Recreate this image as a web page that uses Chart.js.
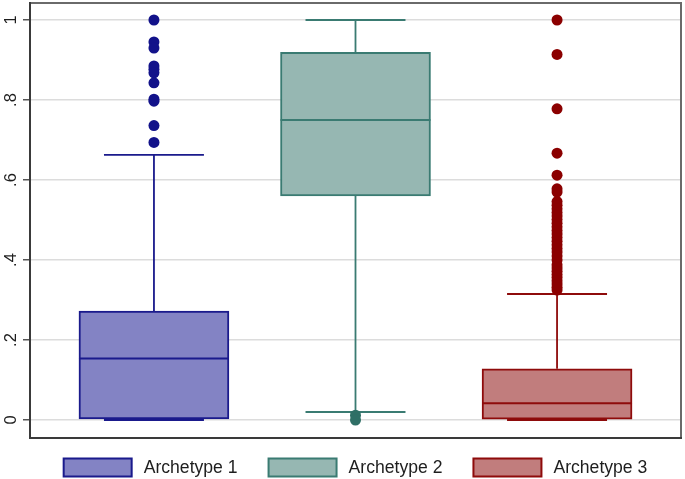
<!DOCTYPE html>
<html>
<head>
<meta charset="utf-8">
<script src="https://cdn.jsdelivr.net/npm/chart.js@4/dist/chart.umd.min.js"></script>
<style>
  html, body { margin: 0; padding: 0; background: #fff; }
  #wrap { width: 685px; height: 479px; position: relative; }
</style>
</head>
<body>
<div id="wrap"><canvas id="c" width="685" height="479"></canvas></div>
<script>
// ---- data ----
const categories = ['Archetype 1', 'Archetype 2', 'Archetype 3'];
const q1 = [0.003, 0.560, 0.002];
const median = [0.154, 0.750, 0.042];
const q3 = [0.272, 0.919, 0.128];
const whiskerLow = [0.0, 0.020, 0.0];
const whiskerHigh = [0.663, 1.0, 0.315];
const outliers1 = [1.0, 0.945, 0.930, 0.885, 0.877, 0.868, 0.843, 0.802, 0.797, 0.736, 0.694];
const outliers2 = [0.012, 0.0];
const outliers3 = [1.0, 0.914, 0.778, 0.667, 0.612, 0.578, 0.570, 0.546, 0.537, 0.528, 0.519,
  0.510, 0.501, 0.492, 0.483, 0.474, 0.465, 0.456, 0.447, 0.438, 0.429, 0.420, 0.410, 0.400,
  0.388, 0.380, 0.372, 0.364, 0.356, 0.348, 0.340, 0.332, 0.325];
const yTicks = [0, 0.2, 0.4, 0.6, 0.8, 1];

const fills = ['#8383c4', '#96b7b2', '#c17d7d'];
const borders = ['#1a1a8c', '#3a7b72', '#8e0b0b'];
const dotColors = ['#12128a', '#2f6f66', '#8b0000'];

const outlierSets = [outliers1, outliers2, outliers3];

const boxWidthUnits = 0.744;
const capWidthUnits = 0.496;

const datasets = [];
categories.forEach((name, i) => {
  datasets.push({
    type: 'bar',
    label: name,
    data: [{ x: i, y: [q1[i], q3[i]] }],
    backgroundColor: fills[i],
    borderColor: borders[i],
    borderWidth: 2,
    borderSkipped: false,
    grouped: false,
    barThickness: 150,
    order: 2
  });
});
categories.forEach((name, i) => {
  datasets.push({
    type: 'scatter',
    label: name + ' outliers',
    data: outlierSets[i].map(v => ({ x: i, y: v })),
    backgroundColor: dotColors[i],
    borderColor: dotColors[i],
    borderWidth: 0,
    pointRadius: 5.5,
    showLine: false,
    clip: false,
    order: 1
  });
});

const boxPlugin = {
  id: 'boxParts',
  beforeDatasetsDraw(chart) {
    const ctx = chart.ctx, xs = chart.scales.x, ys = chart.scales.y;
    ctx.save();
    categories.forEach((c, i) => {
      const cx = xs.getPixelForValue(i);
      const half = (xs.getPixelForValue(i + capWidthUnits / 2) - xs.getPixelForValue(i - capWidthUnits / 2)) / 2;
      ctx.strokeStyle = borders[i];
      ctx.lineWidth = 1.8;
      ctx.beginPath();
      ctx.moveTo(cx, ys.getPixelForValue(q3[i]));
      ctx.lineTo(cx, ys.getPixelForValue(whiskerHigh[i]));
      ctx.moveTo(cx, ys.getPixelForValue(q1[i]));
      ctx.lineTo(cx, ys.getPixelForValue(whiskerLow[i]));
      ctx.moveTo(cx - half, ys.getPixelForValue(whiskerHigh[i]));
      ctx.lineTo(cx + half, ys.getPixelForValue(whiskerHigh[i]));
      ctx.moveTo(cx - half, ys.getPixelForValue(whiskerLow[i]));
      ctx.lineTo(cx + half, ys.getPixelForValue(whiskerLow[i]));
      ctx.stroke();
    });
    ctx.restore();
  },
  afterDatasetsDraw(chart) {
    const ctx = chart.ctx, xs = chart.scales.x, ys = chart.scales.y;
    ctx.save();
    categories.forEach((c, i) => {
      const l = xs.getPixelForValue(i - boxWidthUnits / 2);
      const r = xs.getPixelForValue(i + boxWidthUnits / 2);
      const y = ys.getPixelForValue(median[i]);
      ctx.strokeStyle = borders[i];
      ctx.lineWidth = 2;
      ctx.beginPath();
      ctx.moveTo(l, y);
      ctx.lineTo(r, y);
      ctx.stroke();
    });
    // frame
    const a = chart.chartArea;
    ctx.lineWidth = 2;
    ctx.strokeStyle = '#6a6a6a';
    ctx.beginPath();
    ctx.moveTo(a.left, a.top); ctx.lineTo(a.right, a.top); ctx.lineTo(a.right, a.bottom);
    ctx.stroke();
    ctx.strokeStyle = '#3a3a3a';
    ctx.beginPath();
    ctx.moveTo(a.left, a.top - 1); ctx.lineTo(a.left, a.bottom); ctx.lineTo(a.right + 1, a.bottom);
    ctx.stroke();
    ctx.restore();
  },
  afterDraw(chart) {
    // legend
    const ctx = chart.ctx, a = chart.chartArea;
    ctx.save();
    ctx.font = '17.6px "Liberation Sans", Arial, sans-serif';
    ctx.textBaseline = 'middle';
    ctx.textAlign = 'left';
    const bw = 68, bh = 18, gapText = 12, gapItem = 31;
    const widths = categories.map(t => bw + gapText + ctx.measureText(t).width);
    const total = widths.reduce((s, w) => s + w, 0) + gapItem * (categories.length - 1);
    let x = (a.left + a.right) / 2 - total / 2;
    const yc = 467.5;
    categories.forEach((t, i) => {
      ctx.fillStyle = fills[i];
      ctx.fillRect(x, yc - bh / 2, bw, bh);
      ctx.strokeStyle = borders[i];
      ctx.lineWidth = 2;
      ctx.strokeRect(x, yc - bh / 2, bw, bh);
      ctx.fillStyle = '#1e1e1e';
      ctx.fillText(t, x + bw + gapText, yc + 1);
      x += widths[i] + gapItem;
    });
    ctx.restore();
  }
};

new Chart(document.getElementById('c'), {
  type: 'bar',
  data: { datasets },
  options: {
    responsive: false,
    animation: false,
    devicePixelRatio: 1,
    layout: { autoPadding: false, padding: { top: 3, right: 4, bottom: 41, left: 0 } },
    plugins: { legend: { display: false }, tooltip: { enabled: false } },
    scales: {
      x: {
        type: 'linear',
        min: -0.615,
        max: 2.615,
        offset: false,
        display: false
      },
      y: {
        type: 'linear',
        min: -0.045,
        max: 1.0425,
        afterBuildTicks(scale) { scale.ticks = yTicks.map(v => ({ value: v })); },
        afterFit(scale) { scale.width = 30; scale.paddingTop = 0; scale.paddingBottom = 0; },
        border: { display: false },
        grid: { color: '#dcdcdc', lineWidth: 1.5, drawTicks: true, tickLength: 7, tickColor: '#555', tickWidth: 1.5 },
        ticks: {
          minRotation: 90,
          maxRotation: 90,
          crossAlign: 'center',
          padding: 5,
          color: '#1e1e1e',
          font: { family: '"Liberation Sans", Arial, sans-serif', size: 16.5 },
          callback(v) {
            const r = Math.round(v * 10) / 10;
            if (r === 0) return '0';
            if (r === 1) return '1';
            return String(r).replace(/^0\./, '.');
          }
        }
      }
    }
  },
  plugins: [boxPlugin]
});
</script>
</body>
</html>
